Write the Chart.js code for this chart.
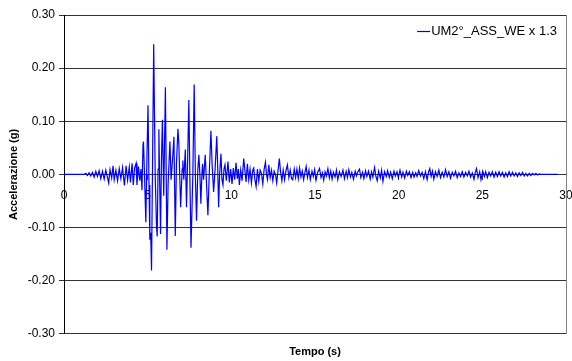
<!DOCTYPE html>
<html>
<head>
<meta charset="utf-8">
<script src="https://cdn.jsdelivr.net/npm/chart.js@4.4.1/dist/chart.umd.min.js"></script>
<style>
  html, body { margin: 0; padding: 0; background: #fff; }
</style>
</head>
<body>
<canvas id="accChart" width="572" height="361"></canvas>
<script>
// Accelerogramma UM2°_ASS_WE scalato x 1.3 — coppie [tempo (s), accelerazione (g)]
const quiete = [[0, 0], [1.2, 0]];

const preEvento = [
  [1.3, 0.002], [1.4, -0.002], [1.5, 0.003], [1.6, -0.003], [1.7, 0.004], [1.8, -0.005],
  [1.9, 0.006], [2.0, -0.004], [2.1, 0.007], [2.2, -0.008], [2.3, 0.006], [2.4, -0.009],
  [2.5, 0.008], [2.6, -0.006], [2.67, -0.016], [2.75, 0.009], [2.85, -0.007], [2.93, 0.016],
  [3.0, -0.01], [3.1, 0.008], [3.2, -0.012], [3.3, 0.011], [3.4, -0.008], [3.5, 0.013],
  [3.61, -0.021], [3.71, 0.016], [3.8, -0.011], [3.9, 0.014], [3.97, -0.015], [4.07, 0.021],
  [4.14, -0.02], [4.22, 0.012], [4.31, 0.021], [4.36, -0.02], [4.45, 0.015], [4.53, -0.012],
  [4.6, 0.01]
];

const faseForte = [
  [4.66, -0.03], [4.72, 0.055], [4.75, 0.062], [4.82, -0.01], [4.89, -0.09], [4.96, 0.04],
  [5.02, 0.13], [5.08, -0.02], [5.13, -0.123], [5.18, -0.11], [5.23, -0.181], [5.3, 0.05],
  [5.36, 0.245], [5.45, 0.0], [5.53, -0.1], [5.57, -0.117], [5.62, 0.01], [5.67, 0.085],
  [5.72, -0.02], [5.77, -0.112], [5.82, 0.02], [5.88, 0.103], [5.96, -0.04], [6.06, 0.164],
  [6.15, -0.142], [6.22, -0.02], [6.33, 0.062], [6.4, -0.01], [6.47, 0.02], [6.57, 0.071],
  [6.65, -0.116], [6.72, 0.02], [6.81, 0.086], [6.86, 0.06], [6.97, -0.062], [7.06, 0.01],
  [7.1, 0.026], [7.16, -0.01], [7.25, 0.047], [7.32, -0.062], [7.39, 0.03], [7.46, 0.14],
  [7.52, 0.0], [7.59, -0.138], [7.7, 0.0], [7.78, 0.169], [7.85, 0.0], [7.92, -0.087],
  [8.0, 0.01], [8.06, 0.037], [8.12, 0.0], [8.18, -0.055], [8.24, 0.0], [8.28, 0.02],
  [8.34, -0.01], [8.44, 0.037], [8.52, -0.02], [8.6, -0.077], [8.68, 0.0], [8.78, 0.082],
  [8.85, 0.02], [8.94, -0.033], [9.03, 0.01], [9.13, 0.072], [9.18, 0.02], [9.24, -0.062],
  [9.3, 0.0], [9.38, 0.039], [9.44, -0.01], [9.5, -0.02], [9.56, 0.01], [9.62, 0.018]
];

const coda = [
  [9.7, -0.012], [9.8, 0.024], [9.88, -0.015], [9.96, 0.01], [10.04, -0.018], [10.12, 0.012],
  [10.2, -0.01], [10.28, 0.022], [10.36, -0.008], [10.42, 0.01], [10.48, -0.02], [10.56, 0.008],
  [10.64, -0.012], [10.74, 0.03], [10.82, 0.005], [10.88, -0.014], [10.96, 0.02], [11.04, -0.01],
  [11.12, 0.01], [11.2, -0.016], [11.28, 0.008], [11.34, 0.012], [11.4, -0.008], [11.48, -0.023],
  [11.56, 0.01], [11.64, -0.013], [11.72, 0.008], [11.8, 0.002], [11.88, -0.018], [11.96, 0.01],
  [12.04, 0.023], [12.1, 0.0], [12.16, -0.01], [12.24, 0.018], [12.32, -0.006], [12.4, 0.008],
  [12.48, -0.012], [12.56, 0.006], [12.64, 0.0], [12.71, -0.016], [12.8, 0.01], [12.87, 0.03],
  [12.94, 0.005], [13.02, -0.012], [13.1, 0.008], [13.18, -0.01], [13.26, 0.006], [13.35, 0.018],
  [13.44, -0.006], [13.52, 0.008], [13.6, -0.008], [13.67, -0.01], [13.76, 0.01], [13.84, -0.006],
  [13.92, 0.01], [14.0, -0.008], [14.08, 0.012], [14.16, -0.005], [14.24, 0.006], [14.32, -0.01],
  [14.4, 0.004], [14.47, 0.015], [14.55, -0.006]
];

const rumoreMedio = [
  [14.64, 0.008], [14.72, -0.01], [14.82, 0.006], [14.9, -0.004], [14.98, 0.009], [15.06, -0.011],
  [15.16, 0.004], [15.27, 0.011], [15.36, -0.006], [15.44, 0.003], [15.52, -0.011], [15.6, 0.005],
  [15.68, -0.003], [15.77, 0.011], [15.86, -0.007], [15.94, 0.006], [16.02, -0.009], [16.1, 0.004],
  [16.2, -0.005], [16.28, 0.008], [16.36, -0.01], [16.46, 0.005], [16.56, -0.004], [16.67, 0.008],
  [16.76, -0.008], [16.86, 0.006], [16.94, -0.006], [17.02, 0.009], [17.12, -0.005], [17.2, 0.004],
  [17.3, -0.009], [17.4, 0.006], [17.48, -0.003], [17.56, 0.005], [17.66, 0.01], [17.74, -0.006],
  [17.84, 0.004], [17.92, -0.008], [18.02, 0.007], [18.1, -0.004], [18.2, 0.006], [18.3, -0.009],
  [18.38, 0.005], [18.46, -0.005], [18.56, 0.013], [18.64, -0.004], [18.72, -0.012], [18.8, 0.006],
  [18.9, -0.007], [18.98, 0.008], [19.06, -0.013], [19.16, 0.005], [19.26, -0.004], [19.34, 0.007],
  [19.44, -0.006], [19.52, 0.004], [19.62, -0.008], [19.72, 0.006], [19.8, -0.003], [19.9, 0.005],
  [19.98, -0.006], [20.08, 0.008], [20.18, -0.005], [20.26, 0.004], [20.36, -0.007], [20.46, 0.006],
  [20.54, -0.002], [20.64, 0.005], [20.74, -0.006], [20.84, 0.004], [20.92, -0.005], [21.02, 0.003],
  [21.1, -0.004], [21.2, 0.007], [21.3, -0.003], [21.4, 0.004], [21.5, -0.008], [21.6, 0.005],
  [21.7, -0.01], [21.78, 0.004], [21.86, 0.011], [21.94, -0.004], [22.02, 0.006]
];

const rumoreFinale = [
  [22.1, -0.009], [22.2, 0.005], [22.3, -0.004], [22.4, 0.008], [22.5, -0.006], [22.6, 0.004],
  [22.7, -0.005], [22.8, 0.009], [22.9, -0.004], [23.0, 0.005], [23.1, -0.007], [23.2, 0.004],
  [23.3, -0.003], [23.4, 0.006], [23.5, -0.006], [23.6, 0.003], [23.7, -0.004], [23.8, 0.005],
  [23.9, -0.005], [24.0, 0.004], [24.1, -0.003], [24.2, 0.006], [24.3, -0.005], [24.4, 0.003],
  [24.5, -0.009], [24.58, 0.004], [24.65, 0.011], [24.74, -0.006], [24.84, 0.005], [24.92, -0.01],
  [25.02, 0.006], [25.12, -0.004], [25.2, 0.005], [25.3, -0.006], [25.4, 0.004], [25.5, -0.003],
  [25.6, 0.005], [25.7, -0.005], [25.8, 0.004], [25.9, -0.004], [26.0, 0.005], [26.1, -0.003],
  [26.2, 0.004], [26.3, -0.005], [26.4, 0.003], [26.5, -0.004], [26.6, 0.005], [26.7, -0.003],
  [26.8, 0.004], [26.9, -0.003], [27.0, 0.003], [27.1, -0.004], [27.2, 0.003], [27.3, -0.002],
  [27.4, 0.004], [27.5, -0.003], [27.6, 0.002], [27.7, -0.003], [27.8, 0.002], [27.9, -0.002],
  [28.0, 0.002], [28.1, -0.001], [28.2, 0.002], [28.3, -0.001], [28.4, 0.001], [28.5, 0],
  [29.5, 0]
];

const tickTempo = [0, 5, 10, 15, 20, 25, 30];
const tickAcc = [-0.3, -0.2, -0.1, 0, 0.1, 0.2, 0.3];
const nomeSerie = 'UM2°_ASS_WE x 1.3';

const FONT = "'Liberation Sans', Arial, sans-serif";

const serie = [...quiete, ...preEvento, ...faseForte, ...coda, ...rumoreMedio, ...rumoreFinale]
  .map(([t, a]) => ({ x: t, y: a }));

// bordo destro dell'area del grafico + legenda in alto a destra
const cornice = {
  id: 'cornice',
  afterDraw(chart) {
    const { ctx, chartArea: { top, right, bottom } } = chart;
    const x = Math.round(right) + 0.5;
    ctx.save();
    ctx.strokeStyle = '#808080';
    ctx.lineWidth = 1;
    ctx.beginPath();
    ctx.moveTo(x, top);
    ctx.lineTo(x, bottom);
    ctx.stroke();

    const ds = chart.data.datasets[0];
    ctx.font = '13px ' + FONT;
    const tx = right - 9 - ctx.measureText(ds.label).width;
    const ty = top + 16;
    ctx.strokeStyle = ds.borderColor;
    ctx.lineWidth = 1.2;
    ctx.beginPath();
    ctx.moveTo(tx - 14, ty + 0.5);
    ctx.lineTo(tx - 1, ty + 0.5);
    ctx.stroke();
    ctx.fillStyle = '#000';
    ctx.textBaseline = 'middle';
    ctx.fillText(ds.label, tx, ty);
    ctx.restore();
  }
};

new Chart(document.getElementById('accChart'), {
  type: 'line',
  data: {
    datasets: [{
      label: nomeSerie,
      data: serie,
      borderColor: '#0000ff',
      backgroundColor: '#0000ff',
      borderWidth: 1.2,
      pointRadius: 0,
      tension: 0,
      fill: false
    }]
  },
  options: {
    responsive: false,
    animation: false,
    layout: { padding: { top: 15, right: 6, left: 0, bottom: 0 } },
    plugins: {
      tooltip: { enabled: false },
      legend: { display: false }
    },
    scales: {
      x: {
        type: 'linear',
        position: { y: 0 },
        min: 0,
        max: 30,
        afterBuildTicks: s => { s.ticks = tickTempo.map(v => ({ value: v })); },
        afterFit: s => { s.paddingLeft = 0; s.paddingRight = 0; },
        ticks: { color: '#000', padding: 9, maxRotation: 0, font: { family: FONT, size: 12 } },
        grid: { drawOnChartArea: false, drawTicks: true, tickLength: 5, color: '#333' },
        border: { color: '#333' }
      },
      xTitolo: {
        type: 'linear',
        position: 'bottom',
        min: 0,
        max: 30,
        ticks: { display: false },
        grid: { display: false },
        border: { display: false },
        title: {
          display: true,
          text: 'Tempo (s)',
          color: '#000',
          font: { family: FONT, size: 11, weight: 'bold' },
          padding: { top: 4, bottom: 2 }
        }
      },
      y: {
        min: -0.3,
        max: 0.3,
        afterBuildTicks: s => { s.ticks = tickAcc.map(v => ({ value: v })); },
        afterFit: s => { s.width = 64; },
        ticks: {
          color: '#000',
          padding: 4,
          font: { family: FONT, size: 12 },
          callback: v => (Math.abs(v) < 1e-9 ? 0 : v).toFixed(2)
        },
        grid: { color: '#333', tickLength: 5 },
        border: { color: '#000' },
        title: {
          display: true,
          text: 'Accelerazione (g)',
          color: '#000',
          font: { family: FONT, size: 11, weight: 'bold' },
          padding: { top: 7, bottom: 0 }
        }
      }
    }
  },
  plugins: [cornice]
});
</script>
</body>
</html>
